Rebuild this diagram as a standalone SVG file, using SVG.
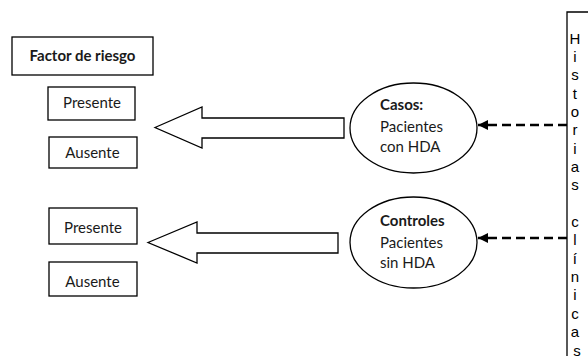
<svg xmlns="http://www.w3.org/2000/svg" width="588" height="363" viewBox="0 0 588 363">
<defs>
<style>
.box{fill:#fff;stroke:#000;stroke-width:1.3}
.lbl{font-family:Lato,"Open Sans",sans-serif;font-size:15px;fill:#1a1a1a}
.b{font-weight:bold}
.blk{fill:#fff;stroke:#000;stroke-width:1.3;stroke-linejoin:miter}
.dash{stroke:#000;stroke-width:2.6;stroke-dasharray:9 5;fill:none}
.col{font-family:"Liberation Sans",Arial,sans-serif;font-size:15px;fill:#000}
.edge{fill:none;stroke:#000;stroke-width:1.3}
</style>
<marker id="ah" viewBox="0 0 10 10" refX="10" refY="5" markerWidth="4" markerHeight="4" orient="auto" markerUnits="strokeWidth">
<path d="M0,0 L10,5 L0,10 z" fill="#000"/>
</marker>
</defs>
<rect width="588" height="363" fill="#fff"/>

<g id="factor">
<rect class="box" x="12" y="37" width="141" height="38"/>
<text class="lbl b" x="82.5" y="61" text-anchor="middle">Factor de riesgo</text>
</g>
<g id="presente1">
<rect class="box" x="48" y="87" width="87" height="33"/>
<text class="lbl" x="92" y="108" text-anchor="middle">Presente</text>
</g>
<g id="ausente1">
<rect class="box" x="49" y="137" width="88" height="31"/>
<text class="lbl" x="92.5" y="158" text-anchor="middle">Ausente</text>
</g>
<g id="presente2">
<rect class="box" x="49" y="208" width="88" height="36"/>
<text class="lbl" x="93" y="233" text-anchor="middle">Presente</text>
</g>
<g id="ausente2">
<rect class="box" x="49" y="262" width="88" height="34"/>
<text class="lbl" x="92.5" y="287" text-anchor="middle">Ausente</text>
</g>

<g id="casos">
<ellipse class="box" cx="413.5" cy="128" rx="63.5" ry="45"/>
<text class="lbl b" x="380" y="110">Casos:</text>
<text class="lbl" x="380" y="132">Pacientes</text>
<text class="lbl" x="380" y="152">con HDA</text>
</g>
<g id="controles">
<ellipse class="box" cx="413.5" cy="242.5" rx="63.5" ry="45.5"/>
<text class="lbl b" x="380" y="226">Controles</text>
<text class="lbl" x="380" y="248">Pacientes</text>
<text class="lbl" x="380" y="268">sin HDA</text>
</g>

<g id="historias">
<rect x="567" y="12" width="21" height="344" fill="#fff"/>
<path class="edge" d="M567,356 L567,12 L590,12"/>
<text class="col" text-anchor="middle">
<tspan x="577" y="43.5">H</tspan>
<tspan x="577" y="61.9">i</tspan>
<tspan x="577" y="80.2">s</tspan>
<tspan x="577" y="98.6">t</tspan>
<tspan x="577" y="116.9">o</tspan>
<tspan x="577" y="135.3">r</tspan>
<tspan x="577" y="153.6">i</tspan>
<tspan x="577" y="172">a</tspan>
<tspan x="577" y="190.3">s</tspan>
<tspan x="577" y="227">c</tspan>
<tspan x="577" y="245.4">l</tspan>
<tspan x="577" y="263.7">í</tspan>
<tspan x="577" y="282.1">n</tspan>
<tspan x="577" y="300.4">i</tspan>
<tspan x="577" y="318.8">c</tspan>
<tspan x="577" y="337.1">a</tspan>
<tspan x="577" y="355.5">s</tspan>
</text>
</g>

<g id="connectors">
<path class="blk" d="M155,127.5 L202,107 L202,118 L344,118 L344,138 L202,138 L202,148 Z"/>
<path class="blk" d="M148,242.5 L197,222 L197,233 L338,233 L338,253 L197,253 L197,263 Z"/>
<line class="dash" x1="567" y1="125" x2="478" y2="125" marker-end="url(#ah)"/>
<line class="dash" x1="567" y1="238" x2="478" y2="238" marker-end="url(#ah)"/>
</g>
</svg>
